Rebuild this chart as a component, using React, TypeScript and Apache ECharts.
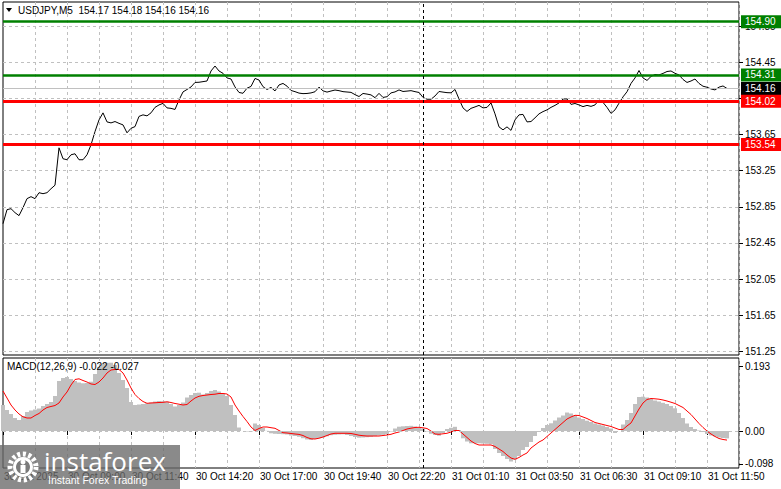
import React, { useEffect, useRef } from 'react';
import * as echarts from 'echarts';

// ---------- data ----------
const TIME_LABELS = [
  '30 Oct 2025', '30 Oct 09:00', '30 Oct 11:40', '30 Oct 14:20', '30 Oct 17:00', '30 Oct 19:40',
  '30 Oct 22:20', '31 Oct 01:10', '31 Oct 03:50', '31 Oct 06:30', '31 Oct 09:10', '31 Oct 11:50',
];
const PRICE_TICKS = [151.25, 151.65, 152.05, 152.45, 152.85, 153.25, 153.65, 154.05, 154.45, 154.85];
// 154.05 is hidden behind the 154.02 level box in the reference
const PRICE_LABELS = [151.25, 151.65, 152.05, 152.45, 152.85, 153.25, 153.65, 154.45, 154.85];
const MACD_TICKS = [-0.098, 0, 0.193];

const PRICE = [
  152.663, 152.818, 152.829, 152.785, 152.752, 152.840, 152.940, 152.962, 152.940, 153.006,
  152.995, 153.006, 153.050, 153.089, 153.503, 153.382, 153.371, 153.426, 153.437, 153.371,
  153.371, 153.426, 153.536, 153.683, 153.812, 153.890, 153.790, 153.779, 153.794, 153.774,
  153.757, 153.669, 153.719, 153.738, 153.851, 153.868, 153.857, 153.890, 153.951, 153.978,
  153.995, 153.945, 153.940, 153.928, 154.033, 154.122, 154.149, 154.177, 154.227, 154.229,
  154.236, 154.243, 154.354, 154.409, 154.354, 154.328, 154.277, 154.265, 154.177, 154.116,
  154.107, 154.163, 154.183, 154.271, 154.254, 154.180, 154.149, 154.172, 154.133, 154.199,
  154.216, 154.186, 154.138, 154.125, 154.109, 154.103, 154.105, 154.111, 154.124, 154.175,
  154.134, 154.120, 154.132, 154.143, 154.136, 154.125, 154.121, 154.117, 154.092, 154.071,
  154.105, 154.098, 154.089, 154.058, 154.106, 154.061, 154.069, 154.111, 154.122, 154.144,
  154.127, 154.131, 154.136, 154.125, 154.116, 154.061, 154.041, 154.041, 154.077, 154.127,
  154.120, 154.114, 154.112, 154.149, 154.044, 153.945, 153.906, 153.940, 153.956, 153.973,
  153.945, 153.951, 154.000, 153.879, 153.735, 153.702, 153.735, 153.696, 153.812, 153.868,
  153.873, 153.790, 153.794, 153.835, 153.879, 153.904, 153.923, 153.951, 153.973, 154.000,
  154.044, 154.044, 153.984, 153.994, 153.978, 153.959, 153.973, 153.962, 153.978, 154.033,
  154.006, 153.951, 153.884, 153.923, 153.997, 154.067, 154.124, 154.216, 154.277, 154.359,
  154.277, 154.249, 154.293, 154.315, 154.310, 154.327, 154.348, 154.354, 154.328, 154.310,
  154.260, 154.227, 154.243, 154.265, 154.216, 154.185, 154.174, 154.155, 154.144, 154.175,
  154.188, 154.160,
];

const MACD_HIST = [
  0.0772, 0.0624, 0.0505, 0.0386, 0.0327, 0.0446, 0.0564, 0.0609, 0.0639, 0.0668,
  0.0743, 0.0802, 0.0861, 0.1040, 0.1485, 0.1574, 0.1604, 0.1544, 0.1485, 0.1440,
  0.1417, 0.1426, 0.1464, 0.1693, 0.1901, 0.2005, 0.2026, 0.2029, 0.1960, 0.1723,
  0.1515, 0.1277, 0.0861, 0.0772, 0.0787, 0.0802, 0.0823, 0.0846, 0.0876, 0.0891,
  0.0882, 0.0870, 0.0802, 0.0728, 0.0772, 0.0846, 0.0995, 0.1069, 0.1129, 0.1138,
  0.1084, 0.1129, 0.1188, 0.1218, 0.1173, 0.1114, 0.1040, 0.0772, 0.0475, 0.0104,
  0.0000, -0.0015, -0.0015, 0.0223, 0.0178, 0.0089, 0.0005, -0.0068, -0.0083, -0.0089,
  -0.0095, -0.0104, -0.0134, -0.0149, -0.0172, -0.0214, -0.0252, -0.0267, -0.0238, -0.0214,
  -0.0193, -0.0157, -0.0125, -0.0113, -0.0104, -0.0098, -0.0119, -0.0149, -0.0178, -0.0199,
  -0.0193, -0.0184, -0.0172, -0.0154, -0.0134, -0.0113, -0.0089, -0.0015, 0.0074, 0.0128,
  0.0140, 0.0149, 0.0154, 0.0134, 0.0104, 0.0074, -0.0015, -0.0083, -0.0119, -0.0140,
  -0.0059, 0.0059, 0.0095, 0.0125, 0.0030, -0.0217, -0.0312, -0.0365, -0.0365, -0.0365,
  -0.0371, -0.0380, -0.0395, -0.0535, -0.0653, -0.0743, -0.0832, -0.0906, -0.0846, -0.0743,
  -0.0564, -0.0475, -0.0327, -0.0149, -0.0030, 0.0089, 0.0178, 0.0229, 0.0312, 0.0401,
  0.0460, 0.0549, 0.0520, 0.0460, 0.0401, 0.0356, 0.0306, 0.0267, 0.0223, 0.0193,
  0.0163, 0.0119, 0.0074, -0.0059, 0.0000, 0.0193, 0.0327, 0.0535, 0.0802, 0.1010,
  0.1019, 0.0995, 0.0950, 0.0906, 0.0876, 0.0838, 0.0802, 0.0743, 0.0674, 0.0535,
  0.0386, 0.0223, 0.0119, 0.0059, 0.0015, -0.0030, -0.0089, -0.0134, -0.0163, -0.0193,
  -0.0208, -0.0220,
];

const MACD_SIGNAL = [
  0.1188, 0.0980, 0.0772, 0.0624, 0.0505, 0.0422, 0.0386, 0.0386, 0.0460, 0.0520,
  0.0624, 0.0698, 0.0728, 0.0757, 0.0832, 0.1010, 0.1158, 0.1366, 0.1530, 0.1550,
  0.1500, 0.1455, 0.1396, 0.1381, 0.1455, 0.1574, 0.1723, 0.1812, 0.1827, 0.1827,
  0.1723, 0.1515, 0.1277, 0.1084, 0.0965, 0.0876, 0.0823, 0.0832, 0.0838, 0.0846,
  0.0852, 0.0867, 0.0846, 0.0817, 0.0796, 0.0772, 0.0787, 0.0891, 0.0980, 0.1031,
  0.1054, 0.1069, 0.1084, 0.1093, 0.1114, 0.1114, 0.1099, 0.1010, 0.0772, 0.0594,
  0.0431, 0.0282, 0.0119, 0.0015, 0.0074, 0.0119, 0.0119, 0.0098, 0.0080, 0.0015,
  -0.0050, -0.0059, -0.0074, -0.0089, -0.0101, -0.0134, -0.0193, -0.0232, -0.0238, -0.0214,
  -0.0178, -0.0134, -0.0089, -0.0068, -0.0068, -0.0068, -0.0068, -0.0074, -0.0098, -0.0125,
  -0.0140, -0.0149, -0.0149, -0.0149, -0.0149, -0.0134, -0.0119, -0.0098, -0.0059, -0.0030,
  0.0015, 0.0059, 0.0083, 0.0104, 0.0110, 0.0095, 0.0074, 0.0000, -0.0089, -0.0098,
  -0.0083, -0.0068, -0.0030, 0.0015, 0.0015, -0.0089, -0.0193, -0.0297, -0.0371, -0.0416,
  -0.0416, -0.0416, -0.0416, -0.0460, -0.0535, -0.0609, -0.0713, -0.0802, -0.0841, -0.0787,
  -0.0713, -0.0653, -0.0505, -0.0416, -0.0327, -0.0267, -0.0163, -0.0059, 0.0045, 0.0149,
  0.0252, 0.0356, 0.0416, 0.0466, 0.0460, 0.0416, 0.0371, 0.0312, 0.0252, 0.0223,
  0.0193, 0.0163, 0.0134, 0.0089, 0.0045, 0.0045, 0.0149, 0.0238, 0.0446, 0.0653,
  0.0832, 0.0936, 0.0965, 0.0956, 0.0944, 0.0921, 0.0891, 0.0855, 0.0817, 0.0757,
  0.0698, 0.0594, 0.0490, 0.0356, 0.0223, 0.0104, 0.0000, -0.0089, -0.0163, -0.0223,
  -0.0252, -0.0270,
];

const LEVELS_GREEN = [154.90, 154.31];
const LEVELS_RED = [154.02, 153.54];
const BID = 154.16;
const SEPARATOR_INDEX = 105;
const HEADER = 'USDJPY,M5  154.17 154.18 154.16 154.16';
const MACD_TITLE = 'MACD(12,26,9) -0.022 -0.027';

// ---------- layout ----------
const N_CATS = 185;
const CATS = Array.from({ length: N_CATS }, (_, i) => String(i));
const FONT = "'Liberation Sans', Arial, sans-serif";
const GRID_COLOR = '#c0c0c0';
const GREEN = '#008000';
const RED = '#ff0000';

export default function App() {
  const ref = useRef<HTMLDivElement>(null);

  useEffect(() => {
    if (!ref.current) return;
    const chart = echarts.init(ref.current, undefined, { renderer: 'svg' });

    const levelLabel = (bg: string) => ({
      show: true,
      position: 'end',
      distance: 2,
      formatter: (p: any) => Number(p.value).toFixed(2),
      color: '#ffffff',
      backgroundColor: bg,
      padding: [2, 12, 1, 4],
      fontSize: 10,
      fontFamily: FONT,
    });

    const xAxisBase = {
      type: 'category',
      data: CATS,
      boundaryGap: false,
      axisLine: { show: false },
      splitLine: {
        show: true,
        interval: (i: number) => i > 0 && i % 8 === 0,
        lineStyle: { color: GRID_COLOR, type: [3, 3], width: 1 },
      },
    };

    chart.setOption({
      animation: false,
      backgroundColor: '#ffffff',
      grid: [
        { left: 3, top: 2, width: 736, height: 353, show: true, borderColor: '#000', borderWidth: 1, backgroundColor: 'transparent' },
        { left: 3, top: 358, width: 736, height: 110, show: true, borderColor: '#000', borderWidth: 1, backgroundColor: 'transparent' },
      ],
      xAxis: [
        { ...xAxisBase, gridIndex: 0, axisTick: { show: false }, axisLabel: { show: false } },
        {
          ...xAxisBase,
          gridIndex: 1,
          axisTick: { show: true, interval: 15, length: 4, lineStyle: { color: '#000' } },
          axisLabel: {
            show: true,
            interval: 15,
            align: 'left',
            margin: 3,
            padding: [0, 0, 0, 1],
            color: '#000',
            fontSize: 10,
            fontFamily: FONT,
            formatter: (_v: string, i: number) => TIME_LABELS[Math.round(i / 16)] ?? '',
          },
        },
      ],
      yAxis: [
        {
          type: 'value',
          gridIndex: 0,
          position: 'right',
          min: 151.2086,
          max: 155.1178,
          axisLine: { show: false },
          splitLine: { show: false },
          axisTick: { show: true, customValues: PRICE_TICKS, length: 4, lineStyle: { color: '#000' } },
          axisLabel: {
            show: true,
            customValues: PRICE_LABELS,
            margin: 6,
            color: '#000',
            fontSize: 10,
            fontFamily: FONT,
            formatter: (v: number) => v.toFixed(2),
          },
        },
        {
          type: 'value',
          gridIndex: 1,
          position: 'right',
          min: -0.10989,
          max: 0.21681,
          axisLine: { show: false },
          splitLine: { show: false },
          axisTick: { show: true, customValues: MACD_TICKS, length: 4, lineStyle: { color: '#000' } },
          axisLabel: {
            show: true,
            customValues: MACD_TICKS,
            margin: 6,
            color: '#000',
            fontSize: 10,
            fontFamily: FONT,
            formatter: (v: number) => (v === 0 ? '0.00' : v.toFixed(3)),
          },
        },
      ],
      series: [
        {
          name: 'grid-main',
          type: 'line',
          xAxisIndex: 0,
          yAxisIndex: 0,
          data: [],
          z: 1,
          silent: true,
          markLine: {
            silent: true,
            symbol: ['none', 'none'],
            label: { show: false },
            lineStyle: { color: GRID_COLOR, type: [3, 3], width: 1 },
            data: PRICE_TICKS.map((v) => ({ yAxis: v })),
          },
        },
        {
          name: 'USDJPY',
          type: 'line',
          xAxisIndex: 0,
          yAxisIndex: 0,
          data: PRICE,
          showSymbol: false,
          symbol: 'none',
          lineStyle: { color: '#000', width: 1 },
          itemStyle: { color: '#000' },
          z: 2,
        },
        {
          name: 'levels',
          type: 'line',
          xAxisIndex: 0,
          yAxisIndex: 0,
          data: [],
          z: 3,
          silent: true,
          markLine: {
            silent: true,
            symbol: ['none', 'none'],
            data: [
              { yAxis: BID, lineStyle: { color: GRID_COLOR, width: 1, type: 'solid' }, label: levelLabel('#000000') },
              ...LEVELS_GREEN.map((v) => ({ yAxis: v, lineStyle: { color: GREEN, width: 2.5, type: 'solid' }, label: levelLabel(GREEN) })),
              ...LEVELS_RED.map((v) => ({ yAxis: v, lineStyle: { color: RED, width: 3, type: 'solid' }, label: levelLabel(RED) })),
              { xAxis: SEPARATOR_INDEX, lineStyle: { color: '#000', width: 1, type: [3, 3] }, label: { show: false } },
            ],
          },
        },
        {
          name: 'grid-macd',
          type: 'line',
          xAxisIndex: 1,
          yAxisIndex: 1,
          data: [],
          z: 1,
          silent: true,
          markLine: {
            silent: true,
            symbol: ['none', 'none'],
            label: { show: false },
            lineStyle: { color: GRID_COLOR, type: [3, 3], width: 1 },
            data: [{ yAxis: 0 }],
          },
        },
        {
          name: 'MACD',
          type: 'bar',
          xAxisIndex: 1,
          yAxisIndex: 1,
          data: MACD_HIST,
          barWidth: 4,
          itemStyle: { color: '#c0c0c0' },
          z: 2,
        },
        {
          name: 'Signal',
          type: 'line',
          xAxisIndex: 1,
          yAxisIndex: 1,
          data: MACD_SIGNAL,
          showSymbol: false,
          symbol: 'none',
          lineStyle: { color: RED, width: 1 },
          itemStyle: { color: RED },
          z: 3,
        },
        {
          name: 'sep-macd',
          type: 'line',
          xAxisIndex: 1,
          yAxisIndex: 1,
          data: [],
          z: 4,
          silent: true,
          markLine: {
            silent: true,
            symbol: ['none', 'none'],
            label: { show: false },
            lineStyle: { color: '#000', type: [3, 3], width: 1 },
            data: [{ xAxis: SEPARATOR_INDEX }],
          },
        },
      ],
      graphic: [
        { type: 'polygon', shape: { points: [[6, 8], [12, 8], [9, 12]] }, style: { fill: '#000' }, z: 50 },
        { type: 'text', x: 18, y: 10, style: { text: HEADER, fill: '#000', fontSize: 10, fontFamily: FONT, verticalAlign: 'middle' }, z: 50 },
        { type: 'text', x: 7, y: 366, style: { text: MACD_TITLE, fill: '#000', fontSize: 10, fontFamily: FONT, verticalAlign: 'middle' }, z: 50 },
        { type: 'rect', shape: { x: 0, y: 445, width: 180, height: 44 }, style: { fill: 'rgba(105,105,105,0.78)' }, z: 100 },
        { type: 'circle', shape: { cx: 23, cy: 467, r: 13 }, style: { fill: 'none', stroke: '#ffffff', lineWidth: 5, lineDash: [3, 2.5] }, z: 101 },
        { type: 'circle', shape: { cx: 23, cy: 467, r: 10 }, style: { fill: '#ffffff' }, z: 101 },
        { type: 'circle', shape: { cx: 23, cy: 467, r: 7 }, style: { fill: '#7a7a7a' }, z: 102 },
        { type: 'circle', shape: { cx: 23, cy: 462, r: 2.5 }, style: { fill: '#ffffff' }, z: 103 },
        { type: 'rect', shape: { x: 20.5, y: 465, width: 5, height: 8 }, style: { fill: '#ffffff' }, z: 103 },
        { type: 'text', x: 44, y: 461, style: { text: 'instaforex', fill: '#ffffff', fontSize: 26, fontFamily: "'Open Sans', sans-serif", verticalAlign: 'middle' }, z: 103 },
        { type: 'text', x: 48, y: 480, style: { text: 'Instant Forex Trading', fill: '#ffffff', fontSize: 10.5, fontFamily: FONT, verticalAlign: 'middle' }, z: 103 },
      ],
    });

    return () => chart.dispose();
  }, []);

  return <div ref={ref} style={{ position: 'fixed', left: 0, top: 0, width: 781, height: 489 }} />;
}
